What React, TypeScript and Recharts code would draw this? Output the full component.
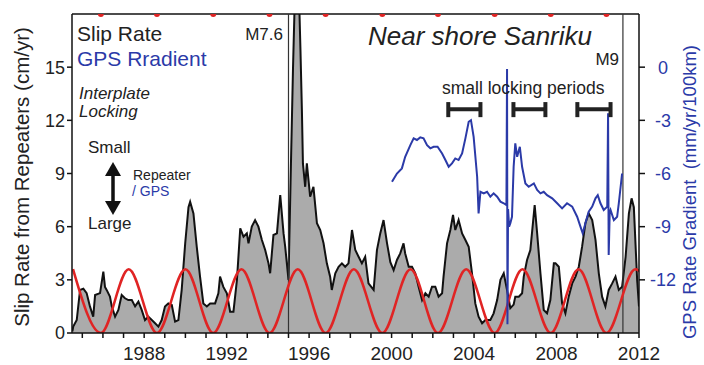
import React from 'react';
import {
  ComposedChart, Area, Line, Scatter, XAxis, YAxis, ReferenceLine
} from 'recharts';

// slip rate from repeaters (cm/yr)
const slipYears = [
  1984.52, 1984.56, 1984.73, 1984.89, 1985.05, 1985.21, 1985.37, 1985.53, 1985.62, 1985.86,
  1986.02, 1986.1, 1986.18, 1986.34, 1986.43, 1986.59, 1986.75, 1986.91, 1987.07, 1987.23,
  1987.4, 1987.56, 1987.72, 1987.88, 1988.04, 1988.2, 1988.37, 1988.53, 1988.69, 1988.85,
  1989.01, 1989.17, 1989.34, 1989.5, 1989.66, 1989.82, 1989.99, 1990.15, 1990.23, 1990.39,
  1990.55, 1990.71, 1990.87, 1991.04, 1991.2, 1991.44, 1991.6, 1991.68, 1991.84, 1992.01,
  1992.17, 1992.33, 1992.5, 1992.66, 1992.82, 1992.98, 1993.06, 1993.22, 1993.38, 1993.54,
  1993.71, 1993.87, 1994.03, 1994.11, 1994.27, 1994.44, 1994.6, 1994.76, 1994.84, 1995.0,
  1995.1, 1995.22, 1995.32, 1995.5, 1995.58, 1995.65, 1995.7, 1995.81, 1995.89, 1996.05,
  1996.21, 1996.38, 1996.54, 1996.7, 1996.86, 1997.02, 1997.1, 1997.27, 1997.43, 1997.59,
  1997.75, 1997.91, 1998.08, 1998.24, 1998.4, 1998.56, 1998.72, 1998.88, 1999.13, 1999.29,
  1999.45, 1999.61, 1999.78, 1999.94, 2000.1, 2000.26, 2000.42, 2000.58, 2000.66, 2000.83,
  2000.99, 2001.15, 2001.31, 2001.48, 2001.64, 2001.8, 2001.96, 2002.12, 2002.28, 2002.45,
  2002.52, 2002.69, 2002.85, 2002.98, 2003.09, 2003.25, 2003.42, 2003.58, 2003.74, 2003.9,
  2004.06, 2004.22, 2004.39, 2004.55, 2004.79, 2004.95, 2005.12, 2005.28, 2005.44, 2005.6,
  2005.76, 2005.92, 2006.0, 2006.17, 2006.33, 2006.41, 2006.57, 2006.73, 2006.94, 2007.06,
  2007.22, 2007.38, 2007.54, 2007.7, 2007.87, 2007.95, 2008.11, 2008.27, 2008.43, 2008.59,
  2008.76, 2008.92, 2009.08, 2009.24, 2009.4, 2009.56, 2009.73, 2009.89, 2010.05, 2010.21,
  2010.37, 2010.53, 2010.7, 2010.86, 2011.02, 2011.18, 2011.35, 2011.51, 2011.64, 2011.75,
  2011.91, 2012.0,
];
const slipValues = [
  0.1, 0.36, 0.73, 2.43, 2.5, 2.25, 1.5, 0.92, 2.14, 2.25,
  3.46, 2.6, 2.43, 2.05, 1.5, 0.92, 1.3, 2.14, 1.96, 1.86,
  1.86, 1.5, 1.77, 1.3, 0.73, 0.92, 0.73, 0.55, 0.36, 0.73,
  1.5, 1.67, 1.58, 0.64, 0.73, 2.43, 5.06, 7.1, 7.4, 6.75,
  4.87, 3.18, 1.67, 1.5, 1.67, 1.67, 2.24, 3.18, 2.6, 2.24,
  1.2, 1.2, 3.0, 5.9, 5.43, 5.62, 5.06, 6.0, 6.37, 6.0,
  5.25, 4.68, 3.93, 3.37, 5.53, 5.62, 7.78, 5.62, 4.87, 3.0,
  8.5, 15, 19.5, 19.5, 16, 12.6, 9.57, 8.25, 9.57, 7.69,
  8.25, 6.19, 5.81, 5.06, 3.93, 3.18, 2.43, 3.37, 3.74, 3.93,
  3.74, 3.93, 5.81, 4.68, 4.3, 3.93, 4.3, 2.8, 2.43, 4.68,
  5.62, 6.37, 5.06, 4.0, 3.55, 4.12, 4.49, 5.06, 4.49, 3.74,
  3.74, 3.37, 2.61, 1.86, 2.24, 2.05, 2.61, 2.61, 2.05, 2.24,
  3.18, 5.06, 5.81, 6.66, 5.81, 6.37, 5.62, 5.25, 4.87, 3.37,
  1.67, 0.92, 0.55, 0.73, 0.73, 1.11, 1.86, 3.0, 3.37, 2.43,
  1.4, 1.6, 2.05, 2.05, 2.24, 3.18, 4.12, 4.68, 7.22, 5.62,
  3.37, 1.3, 1.11, 1.86, 3.93, 3.93, 3.74, 1.67, 1.11, 2.05,
  2.8, 3.18, 3.74, 4.87, 6.19, 6.75, 6.37, 5.25, 3.37, 2.05,
  1.5, 2.43, 2.8, 3.18, 2.43, 2.61, 4.3, 6.75, 7.6, 7.1,
  3.0, 1.5,
];

// GPS rate gradient (mm/yr/100km)
const gpsYears = [
  2000.02, 2000.26, 2000.5, 2000.66, 2000.91, 2001.07, 2001.23, 2001.39, 2001.55, 2001.72,
  2001.88, 2002.04, 2002.23, 2002.45, 2002.61, 2002.77, 2002.93, 2003.09, 2003.25, 2003.42,
  2003.58, 2003.74, 2003.85, 2003.98, 2004.15, 2004.22, 2004.31, 2004.47, 2004.63, 2004.79,
  2004.95, 2005.12, 2005.28, 2005.44, 2005.57, 2005.6, 2005.62, 2005.65, 2005.7, 2005.76,
  2005.84, 2005.92, 2006.0, 2006.09, 2006.22, 2006.33, 2006.49, 2006.65, 2006.9, 2007.06,
  2007.22, 2007.38, 2007.54, 2007.79, 2008.03, 2008.27, 2008.51, 2008.76, 2009.0, 2009.16,
  2009.27, 2009.4, 2009.56, 2009.73, 2009.89, 2010.0, 2010.13, 2010.29, 2010.46, 2010.5,
  2010.53, 2010.58, 2010.62, 2010.78, 2010.94, 2011.02, 2011.18,
];
const gpsValues = [
  -6.47, -6.0, -5.71, -5.06, -4.4, -4.02, -4.11, -3.96, -4.02, -4.4,
  -4.58, -4.49, -4.49, -4.87, -5.24, -5.62, -5.43, -5.15, -5.24, -4.87,
  -4.02, -3.08, -2.99, -3.93, -6.18, -8.25, -7.03, -7.12, -7.03, -7.31,
  -7.12, -7.31, -7.59, -7.68, -7.78, -0.1, -14.5, -8.0, -9.0, -8.8,
  -8.44, -5.62, -4.3, -5.06, -4.49, -5.62, -6.56, -6.75, -6.56, -6.93,
  -7.12, -7.03, -7.22, -7.4, -7.68, -7.97, -7.68, -7.87, -8.44, -9.0,
  -9.38, -8.81, -8.16, -7.87, -7.4, -7.22, -7.68, -8.06, -7.87, -2.6,
  -10.6, -8.2, -8.06, -8.63, -8.44, -7.68, -6.0,
];

// red cycle: peaks and troughs
const cycleYears = [
  1984.55, 1985.9, 1987.25, 1988.62, 1990.0, 1991.35, 1992.72, 1994.08, 1995.45, 1996.8,
  1998.17, 1999.55, 2000.92, 2002.25, 2003.62, 2005.0, 2006.35, 2007.72, 2009.07, 2010.42,
  2011.82, 2013.2,
];
const cycleValues = [
  3.6, 0, 3.6, 0, 3.6, 0, 3.6, 0, 3.6, 0,
  3.6, 0, 3.6, 0, 3.6, 0, 3.6, 0, 3.6, 0,
  3.6, 0,
];
const markerYears = [1985.9, 1988.62, 1991.35, 1994.08, 1996.8, 1999.55, 2002.25, 2005.0, 2007.72, 2010.42];

const quakeYears = [1995.0, 2011.22];
const lockStart = [2002.75, 2005.91, 2009.01];
const lockEnd = [2004.31, 2007.46, 2010.62];
const lockLevel = 12.63;

const xTicks = Array.from({ length: 28 }, (_, i) => 1985 + i);
const leftTicks = [0, 3, 6, 9, 12, 15];
const rightTicks = [-12, -9, -6, -3, 0];

const slipData = slipYears.map((x, i) => ({ x, slip: slipValues[i] }));
const gpsData = gpsYears.map((x, i) => ({ x, gps: gpsValues[i] }));
const cycleData = cycleYears.map((x, i) => ({ x, cyc: cycleValues[i] }));
const markerData = markerYears.map(x => ({ x, top: 18 }));

const FONT = '"Liberation Sans", Arial, Helvetica, sans-serif';
const BLUE = '#2b3aa8';
const RED = '#e02424';

const RightTick = (props: any) => {
  const { x, y, payload } = props;
  return (
    <text x={x + 16} y={y} dy="0.36em" textAnchor="middle" fill={BLUE} fontSize={18} fontFamily={FONT}>
      {payload.value}
    </text>
  );
};

export default function App() {
  return (
    <div style={{ position: 'absolute', left: 0, top: 0, width: 704, height: 365, background: '#fff' }}>
      <ComposedChart width={704} height={365} margin={{ top: 14, right: 0, bottom: 0, left: 0 }}>
        <XAxis
          dataKey="x" type="number" domain={[1984.5, 2012]} allowDataOverflow
          ticks={xTicks} interval={0}
          tickFormatter={(v: number) => (v % 4 === 0 ? String(v) : '')}
          height={32} tickSize={5} tickMargin={9}
          stroke="#111" strokeWidth={1.5}
          tick={{ fill: '#222', fontSize: 19, fontFamily: FONT }}
        />
        <YAxis
          yAxisId="l" domain={[0, 18]} allowDataOverflow ticks={leftTicks} interval={0}
          width={72} tickSize={5} tickMargin={2} stroke="#111" strokeWidth={1.5}
          tick={{ fill: '#222', fontSize: 18, fontFamily: FONT }}
        />
        <YAxis
          yAxisId="r" orientation="right" domain={[-15, 3]} allowDataOverflow ticks={rightTicks} interval={0}
          width={65} tickSize={6} tickMargin={2} stroke="#111" strokeWidth={1.5}
          tick={<RightTick />}
        />
        <ReferenceLine yAxisId="l" y={18} stroke="#111" strokeWidth={1.5} />
        <Area
          yAxisId="l" data={slipData} dataKey="slip" type="linear" baseValue={0}
          fill="#ababab" fillOpacity={1} stroke="#111" strokeWidth={2}
          isAnimationActive={false} dot={false} activeDot={false}
        />
        {quakeYears.map(q => (
          <ReferenceLine key={q} yAxisId="l" x={q} stroke="#333" strokeWidth={1.2} />
        ))}
        <Line
          yAxisId="l" data={cycleData} dataKey="cyc" type="monotone"
          stroke={RED} strokeWidth={2.5} dot={false} activeDot={false} isAnimationActive={false}
        />
        <Line
          yAxisId="r" data={gpsData} dataKey="gps" type="linear"
          stroke={BLUE} strokeWidth={2} dot={false} activeDot={false} isAnimationActive={false}
        />
        <Scatter
          yAxisId="l" data={markerData} dataKey="top" isAnimationActive={false}
          shape={(p: any) => <circle cx={p.cx} cy={p.cy} r={3} fill={RED} />}
        />
        {lockStart.map((s, i) => (
          <ReferenceLine
            key={'h' + i} yAxisId="l" stroke="#222" strokeWidth={4}
            segment={[{ x: s, y: lockLevel }, { x: lockEnd[i], y: lockLevel }]}
          />
        ))}
        {lockStart.map((s, i) => (
          <ReferenceLine
            key={'a' + i} yAxisId="l" stroke="#222" strokeWidth={4}
            segment={[{ x: s, y: lockLevel - 0.45 }, { x: s, y: lockLevel + 0.4 }]}
          />
        ))}
        {lockEnd.map((e, i) => (
          <ReferenceLine
            key={'b' + i} yAxisId="l" stroke="#222" strokeWidth={4}
            segment={[{ x: e, y: lockLevel - 0.45 }, { x: e, y: lockLevel + 0.4 }]}
          />
        ))}
      </ComposedChart>
      <svg width={704} height={365} style={{ position: 'absolute', left: 0, top: 0, pointerEvents: 'none' }} fontFamily={FONT}>
        <text x={22} y={177} transform="rotate(-90 22 177)" textAnchor="middle" dy="0.35em" fontSize={20.5} fill="#222">
          Slip Rate from Repeaters (cm/yr)
        </text>
        <text x={690} y={192} transform="rotate(-90 690 192)" textAnchor="middle" dy="0.35em" fontSize={18.5} fill={BLUE}>
          GPS Rate Gradient{'\u00a0\u00a0'}(mm/yr/100km)
        </text>
        <text x={77} y={41} fontSize={21} fill="#222">Slip Rate</text>
        <text x={77} y={66} fontSize={21} fill={BLUE}>GPS Rradient</text>
        <text x={283} y={40} fontSize={17} fill="#222" textAnchor="end">M7.6</text>
        <text x={79} y={99} fontSize={17} fill="#222" fontStyle="italic">Interplate</text>
        <text x={79} y={117} fontSize={17} fill="#222" fontStyle="italic">Locking</text>
        <text x={88} y={153} fontSize={17} fill="#222">Small</text>
        <text x={88} y={229} fontSize={17} fill="#222">Large</text>
        <text x={133} y={180} fontSize={14} fill="#222">Repeater</text>
        <text x={132} y={196} fontSize={14} fill={BLUE}>/ GPS</text>
        <line x1={113} y1={172} x2={113} y2={206} stroke="#111" strokeWidth={3.5} />
        <polygon points="113,162 105,176 121,176" fill="#111" />
        <polygon points="113,215 105,201 121,201" fill="#111" />
        <text x={368} y={45} fontSize={26} fill="#222" fontStyle="italic">Near shore Sanriku</text>
        <text x={619} y={65} fontSize={17} fill="#222" textAnchor="end">M9</text>
        <text x={442} y={94} fontSize={17.5} fill="#222">small locking periods</text>
      </svg>
    </div>
  );
}
